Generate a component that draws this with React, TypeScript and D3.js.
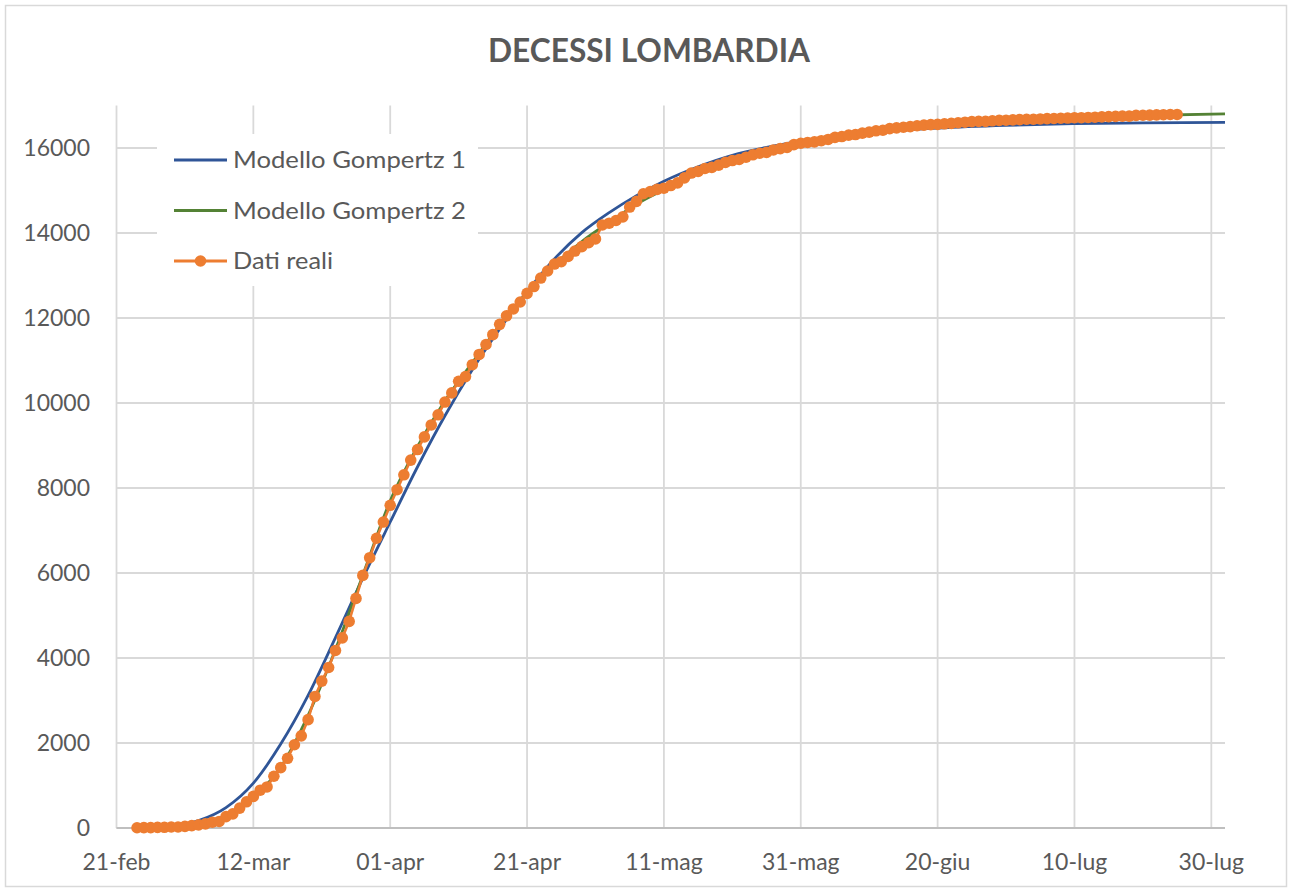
import React from "react";
import * as d3 from "d3";

// ---------- data ----------
const chartTitle = "DECESSI LOMBARDIA";
const seriesNames = ["Modello Gompertz 1", "Modello Gompertz 2", "Dati reali"];

const xTickDates = [
  "2020-02-21", "2020-03-12", "2020-04-01", "2020-04-21", "2020-05-11",
  "2020-05-31", "2020-06-20", "2020-07-10", "2020-07-30",
];
const xTickLabels = [
  "21-feb", "12-mar", "01-apr", "21-apr", "11-mag", "31-mag", "20-giu", "10-lug", "30-lug",
];
const yTicks = [0, 2000, 4000, 6000, 8000, 10000, 12000, 14000, 16000];
const xDomain = ["2020-02-21", "2020-08-01"];
const yDomain = [0, 17000];

// Dati reali: daily cumulative deaths from 24-feb
const realStart = "2020-02-24";
const realValues = [
  6, 9, 9, 14, 17, 23,
  24, 38, 55, 73, 98, 135, 154, 267, 333, 468, 617, 744, 890, 966, 1218, 1420,
  1640, 1959, 2168, 2549, 3095, 3456, 3776, 4178, 4474, 4861, 5402, 5944, 6360, 6818, 7199,
  7593, 7960, 8311, 8656, 8905, 9202, 9484, 9722, 10022, 10238, 10511, 10621, 10901, 11142,
  11377, 11608, 11851, 12050, 12213, 12376, 12579, 12740, 12940, 13106, 13269, 13325, 13449,
  13575, 13679, 13772,
  13860, 14189, 14231, 14294, 14380, 14611, 14745, 14924, 14974, 15027, 15054, 15116, 15179,
  15296, 15411, 15450, 15519, 15543, 15597, 15662, 15705, 15729, 15784, 15840, 15876, 15896,
  15954, 15986, 16012, 16079, 16112,
  16131, 16143, 16172, 16201, 16249, 16270, 16302, 16317, 16349, 16374, 16405, 16418, 16457,
  16474, 16488, 16504, 16524, 16539, 16549, 16555, 16569, 16580, 16594, 16607, 16620, 16627,
  16627, 16640, 16650, 16654,
  16661, 16667, 16677, 16677, 16684, 16691, 16694, 16701, 16705, 16713, 16713, 16719, 16725,
  16733, 16738, 16745, 16750, 16750, 16767, 16771, 16774, 16780, 16784, 16788, 16790,
];

// Model curves, read at day offsets from 21-feb
const modelStart = "2020-02-21";
const modelDays = [
  3, 8, 12, 16, 20, 24, 28, 32, 36, 40, 44, 48, 52, 56, 60, 64, 68, 72, 76, 80,
  85, 90, 95, 100, 110, 120, 130, 140, 150, 162,
];
const gompertz1 = [
  5, 47, 174, 479, 1055, 1975, 3120, 4480, 5880, 7200, 8500, 9700, 10780, 11740, 12620,
  13390, 14010, 14480, 14880, 15220, 15560, 15830, 16015, 16160, 16360, 16470, 16535, 16572,
  16592, 16605,
];
const gompertz2 = [
  5, 22, 75, 230, 720, 1430, 2650, 4200, 5950, 7700, 8980, 10050, 10950, 11830, 12600,
  13250, 13800, 14250, 14680, 15020, 15400, 15700, 15910, 16080, 16350, 16540, 16650, 16715,
  16765, 16805,
];

// ---------- styles ----------
const W = 1292;
const H = 892;
const plot = { left: 116.5, right: 1225, top: 105.5, bottom: 828 };
const colors = { g1: "#2F5597", g2: "#548235", real: "#ED7D31" };
const textColor = "#595959";
const gridColor = "#D9D9D9";
const axisColor = "#BFBFBF";
const font = "Lato, 'Open Sans', sans-serif";

export default function App() {
  const parse = d3.utcParse("%Y-%m-%d");
  const x = d3
    .scaleUtc()
    .domain(xDomain.map((d) => parse(d) as Date))
    .range([plot.left, plot.right]);
  const y = d3.scaleLinear().domain(yDomain).range([plot.bottom, plot.top]);

  const rStart = parse(realStart) as Date;
  const realPts = realValues.map((v, i) => ({ date: d3.utcDay.offset(rStart, i), v }));
  const mStart = parse(modelStart) as Date;
  const g1Pts = modelDays.map((d, i) => ({ date: d3.utcDay.offset(mStart, d), v: gompertz1[i] }));
  const g2Pts = modelDays.map((d, i) => ({ date: d3.utcDay.offset(mStart, d), v: gompertz2[i] }));

  const smooth = d3
    .line<{ date: Date; v: number }>()
    .x((d) => x(d.date))
    .y((d) => y(d.v))
    .curve(d3.curveMonotoneX);
  const straight = d3
    .line<{ date: Date; v: number }>()
    .x((d) => x(d.date))
    .y((d) => y(d.v));

  const legendRows = [160, 210.5, 261];
  const legendColors = [colors.g1, colors.g2, colors.real];
  const legendWidths = [233, 233, 100];

  return (
    <svg
      width={W}
      height={H}
      style={{ position: "absolute", left: 0, top: 0, background: "#fff" }}
      fontFamily={font}
    >
      <rect x={0} y={0} width={W} height={H} fill="#fff" />
      <rect x={5.5} y={5.5} width={W - 11} height={H - 11} fill="none" stroke={gridColor} strokeWidth={1.5} />

      <text
        x={649}
        y={62}
        textAnchor="middle"
        fontSize={33}
        fontWeight="bold"
        fill={textColor}
        textLength={322}
        lengthAdjust="spacingAndGlyphs"
      >
        {chartTitle}
      </text>

      {/* gridlines */}
      {yTicks.map((t) => (
        <line key={"h" + t} x1={plot.left} x2={plot.right} y1={y(t)} y2={y(t)} stroke={gridColor} strokeWidth={1.8} />
      ))}
      {xTickDates.map((d) => {
        const xx = x(parse(d) as Date);
        return <line key={"v" + d} x1={xx} x2={xx} y1={plot.top} y2={plot.bottom} stroke={gridColor} strokeWidth={1.8} />;
      })}
      <line x1={plot.left} x2={plot.right} y1={plot.bottom} y2={plot.bottom} stroke={axisColor} strokeWidth={2} />

      {/* axis labels */}
      {yTicks.map((t) => (
        <text key={"yl" + t} x={90} y={y(t) + 8.3} textAnchor="end" fontSize={23} fill={textColor}>
          {t}
        </text>
      ))}
      {xTickDates.map((d, i) => (
        <text key={"xl" + d} x={x(parse(d) as Date)} y={870} textAnchor="middle" fontSize={23} fill={textColor}>
          {xTickLabels[i]}
        </text>
      ))}

      {/* series */}
      <path d={smooth(g1Pts) || ""} fill="none" stroke={colors.g1} strokeWidth={2.8} />
      <path d={smooth(g2Pts) || ""} fill="none" stroke={colors.g2} strokeWidth={2.8} />
      <path d={straight(realPts) || ""} fill="none" stroke={colors.real} strokeWidth={2.6} />
      {realPts.map((p, i) => (
        <circle key={"p" + i} cx={x(p.date)} cy={y(p.v)} r={5.8} fill={colors.real} />
      ))}

      {/* legend */}
      <rect x={157} y={134} width={321} height={152} fill="#fff" />
      {seriesNames.map((name, i) => (
        <g key={name}>
          <line x1={174} x2={227} y1={legendRows[i]} y2={legendRows[i]} stroke={legendColors[i]} strokeWidth={2.8} />
          {i === 2 && <circle cx={200.5} cy={legendRows[i]} r={5.8} fill={colors.real} />}
          <text
            x={233}
            y={legendRows[i] + 8.3}
            fontSize={24}
            fill={textColor}
            textLength={legendWidths[i]}
            lengthAdjust="spacingAndGlyphs"
          >
            {name}
          </text>
        </g>
      ))}
    </svg>
  );
}
